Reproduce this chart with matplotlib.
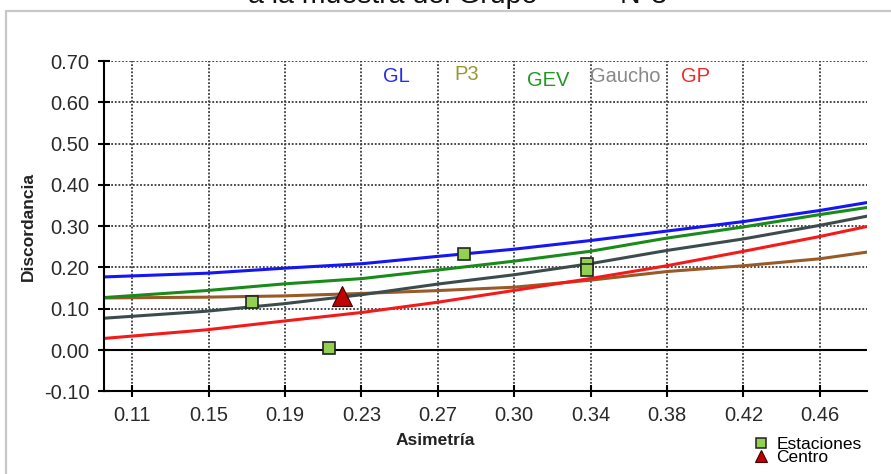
import numpy as np
import matplotlib
matplotlib.use("Agg")
import matplotlib.pyplot as plt
from matplotlib.patches import Rectangle
from matplotlib.lines import Line2D

plt.rcParams["font.family"] = ["Liberation Sans", "DejaVu Sans"]

# asimetria values where the curves were read
asim = [0.0957, 0.148, 0.187, 0.227, 0.266, 0.304, 0.343, 0.382, 0.421, 0.46, 0.4838]

# discordancia curves per distribution
gl = [0.177, 0.186, 0.198, 0.209, 0.227, 0.244, 0.265, 0.288, 0.311, 0.338, 0.357]
gev = [0.127, 0.144, 0.160, 0.173, 0.194, 0.215, 0.239, 0.271, 0.298, 0.328, 0.345]
gaucho = [0.077, 0.094, 0.112, 0.134, 0.160, 0.182, 0.209, 0.241, 0.269, 0.302, 0.324]
gp = [0.028, 0.049, 0.070, 0.091, 0.116, 0.144, 0.173, 0.204, 0.239, 0.275, 0.299]
p3 = [0.126, 0.128, 0.131, 0.137, 0.144, 0.152, 0.169, 0.190, 0.204, 0.221, 0.237]

# stations and centre
est_x = [0.171, 0.2104, 0.279, 0.3417, 0.3417]
est_y = [0.117, 0.004, 0.232, 0.208, 0.194]
centro_x = [0.2166]
centro_y = [0.130]

xtick_labels = ["0.11", "0.15", "0.19", "0.23", "0.27", "0.30", "0.34", "0.38", "0.42", "0.46"]
yticks = [-0.10, 0.00, 0.10, 0.20, 0.30, 0.40, 0.50, 0.60, 0.70]

fig = plt.figure(figsize=(8.91, 4.74), dpi=100)
ax = fig.add_axes([0.1167, 0.1745, 0.856, 0.6968])

# outer frame of the screenshot
fig.patches.append(Rectangle((6 / 891, -0.1), 1.2, 1.0768, transform=fig.transFigure,
                             fill=False, edgecolor="#c8c8c8", lw=1.6))

# title is cut by the top edge, as in the screenshot
fig.text(537 / 891, 1 - 3 / 474, "a la muestra del Grupo", ha="right", va="baseline",
         fontsize=20.5, color="#111111")
fig.text(620 / 891, 1 - 3 / 474, "N°3", ha="left", va="baseline", fontsize=20.5, color="#111111")

ax.grid(True, linestyle=(0, (1, 1)), color="#3a3a3a", lw=1.3)
ax.set_axisbelow(True)
ax.axhline(0, color="black", lw=1.5, zorder=1)

ax.plot(asim, gl, color="#1515f5", lw=2.2)
ax.plot(asim, p3, color="#9a5a28", lw=2.2)
ax.plot(asim, gaucho, color="#3c4c4c", lw=2.2)
ax.plot(asim, gev, color="#1a8a1a", lw=2.2)
ax.plot(asim, gp, color="#f51a1a", lw=2.2)

ax.plot(est_x, est_y, "s", ms=8, mfc="#92d050", mec="#222222", mew=1.2, ls="none", zorder=5)
ax.plot(centro_x, centro_y, "^", ms=15, mfc="#c00000", mec="#400000", mew=0.8, ls="none", zorder=6)

# curve names written inside the plot
names = ["GL", "P3", "GEV", "Gaucho", "GP"]
name_colors = ["#2a2aee", "#999933", "#229922", "#888888", "#f02a2a"]
name_pos = [(0.383, 0.952), (0.476, 0.958), (0.582, 0.942), (0.683, 0.952), (0.776, 0.952)]
for n, c, (px, py) in zip(names, name_colors, name_pos):
    ax.text(px, py, n, color=c, fontsize=14.5, ha="center", va="center", transform=ax.transAxes)

ax.set_xlim(0.0957, 0.4838)
ax.set_ylim(-0.10, 0.70)
ax.set_xticks(np.linspace(0.11, 0.46, len(xtick_labels)))
ax.set_xticklabels(xtick_labels)
ax.set_yticks(yticks)
ax.set_yticklabels(["%.2f" % v for v in yticks])
ax.tick_params(direction="inout", length=9, width=1.5, labelsize=14.5, labelcolor="#2a2a2a")
ax.tick_params(axis="y", pad=6)
ax.tick_params(axis="x", pad=6)

for s in ["top", "right"]:
    ax.spines[s].set_visible(False)
for s in ["left", "bottom"]:
    ax.spines[s].set_linewidth(1.5)

ax.set_xlabel("Asimetría", fontsize=12.5, fontweight="bold", color="#222222")
ax.xaxis.set_label_coords(0.434, -0.125)
ax.set_ylabel("Discordancia", fontsize=12.5, fontweight="bold", color="#222222", labelpad=6)

handles = [
    Line2D([], [], marker="s", ms=7.5, mfc="#92d050", mec="#222222", mew=1.1, ls="none"),
    Line2D([], [], marker="^", ms=8.5, mfc="#c00000", mec="#400000", mew=0.8, ls="none"),
]
ax.legend(handles, ["Estaciones", "Centro"], loc="center left",
          bbox_to_anchor=(745 / 891, 1 - 451 / 474), bbox_transform=fig.transFigure,
          frameon=False, fontsize=12.5, labelspacing=-0.1, handlelength=0.8,
          handletextpad=0.5, borderpad=0)

fig.savefig("out.png", dpi=100)
